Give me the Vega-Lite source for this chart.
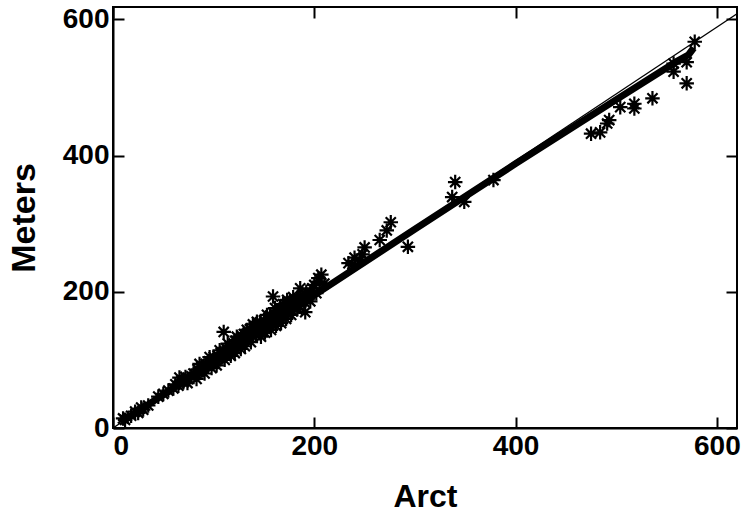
{
  "$schema": "https://vega.github.io/schema/vega-lite/v6.json",
  "width": 624,
  "height": 421,
  "autosize": "none",
  "padding": {"left": 113, "top": 7, "right": 8, "bottom": 88},
  "background": "white",
  "config": {
    "view": {"stroke": "black", "strokeWidth": 2},
    "axis": {
      "grid": false,
      "domainColor": "black",
      "domainWidth": 2,
      "tickColor": "black",
      "tickWidth": 2,
      "tickSize": -11,
      "labelFont": "Liberation Sans",
      "labelFontWeight": "bold",
      "labelFontSize": 28,
      "labelColor": "black",
      "titleFont": "Liberation Sans",
      "titleFontWeight": "bold",
      "titleFontSize": 32,
      "titleColor": "black"
    }
  },
  "datasets": {
    "pts": [
      {"Arct": 10, "Meters": 14}, {"Arct": 12, "Meters": 12}, {"Arct": 18, "Meters": 18}, {"Arct": 22, "Meters": 24},
      {"Arct": 25, "Meters": 22}, {"Arct": 28, "Meters": 30}, {"Arct": 30, "Meters": 27}, {"Arct": 35, "Meters": 33},
      {"Arct": 45, "Meters": 46}, {"Arct": 50, "Meters": 50}, {"Arct": 55, "Meters": 55}, {"Arct": 60, "Meters": 58},
      {"Arct": 62, "Meters": 64}, {"Arct": 65, "Meters": 62}, {"Arct": 66, "Meters": 74}, {"Arct": 68, "Meters": 70}, {"Arct": 70, "Meters": 67},
      {"Arct": 72, "Meters": 75}, {"Arct": 74, "Meters": 66}, {"Arct": 75, "Meters": 72}, {"Arct": 78, "Meters": 76}, {"Arct": 80, "Meters": 80},
      {"Arct": 82, "Meters": 78}, {"Arct": 83, "Meters": 72}, {"Arct": 84, "Meters": 86}, {"Arct": 85, "Meters": 82}, {"Arct": 86, "Meters": 94}, {"Arct": 88, "Meters": 90},
      {"Arct": 90, "Meters": 88}, {"Arct": 91, "Meters": 80}, {"Arct": 92, "Meters": 94}, {"Arct": 94, "Meters": 92}, {"Arct": 95, "Meters": 98},
      {"Arct": 96, "Meters": 104}, {"Arct": 97, "Meters": 95}, {"Arct": 98, "Meters": 88}, {"Arct": 100, "Meters": 100}, {"Arct": 100, "Meters": 104}, {"Arct": 102, "Meters": 98},
      {"Arct": 103, "Meters": 92}, {"Arct": 104, "Meters": 106}, {"Arct": 105, "Meters": 102}, {"Arct": 106, "Meters": 114}, {"Arct": 107, "Meters": 110}, {"Arct": 108, "Meters": 104},
      {"Arct": 110, "Meters": 112}, {"Arct": 110, "Meters": 141}, {"Arct": 111, "Meters": 100}, {"Arct": 112, "Meters": 108}, {"Arct": 113, "Meters": 116},
      {"Arct": 114, "Meters": 124}, {"Arct": 115, "Meters": 112}, {"Arct": 116, "Meters": 120}, {"Arct": 117, "Meters": 106}, {"Arct": 118, "Meters": 115}, {"Arct": 120, "Meters": 124},
      {"Arct": 120, "Meters": 118}, {"Arct": 121, "Meters": 110}, {"Arct": 122, "Meters": 128}, {"Arct": 123, "Meters": 134}, {"Arct": 124, "Meters": 122}, {"Arct": 125, "Meters": 130},
      {"Arct": 126, "Meters": 125}, {"Arct": 127, "Meters": 116}, {"Arct": 128, "Meters": 135}, {"Arct": 130, "Meters": 128}, {"Arct": 130, "Meters": 138},
      {"Arct": 131, "Meters": 120}, {"Arct": 132, "Meters": 132}, {"Arct": 133, "Meters": 144}, {"Arct": 134, "Meters": 140}, {"Arct": 135, "Meters": 135}, {"Arct": 136, "Meters": 145},
      {"Arct": 137, "Meters": 126}, {"Arct": 138, "Meters": 138}, {"Arct": 139, "Meters": 152}, {"Arct": 140, "Meters": 148}, {"Arct": 140, "Meters": 142}, {"Arct": 142, "Meters": 136},
      {"Arct": 143, "Meters": 156}, {"Arct": 144, "Meters": 150}, {"Arct": 145, "Meters": 144}, {"Arct": 146, "Meters": 155}, {"Arct": 147, "Meters": 134}, {"Arct": 148, "Meters": 148},
      {"Arct": 150, "Meters": 158}, {"Arct": 150, "Meters": 150}, {"Arct": 151, "Meters": 140}, {"Arct": 152, "Meters": 145}, {"Arct": 153, "Meters": 166}, {"Arct": 154, "Meters": 160},
      {"Arct": 155, "Meters": 152}, {"Arct": 156, "Meters": 165}, {"Arct": 157, "Meters": 144}, {"Arct": 158, "Meters": 155}, {"Arct": 159, "Meters": 193},
      {"Arct": 160, "Meters": 168}, {"Arct": 160, "Meters": 160}, {"Arct": 161, "Meters": 176}, {"Arct": 162, "Meters": 150}, {"Arct": 164, "Meters": 170},
      {"Arct": 165, "Meters": 162}, {"Arct": 166, "Meters": 175}, {"Arct": 167, "Meters": 154}, {"Arct": 168, "Meters": 165}, {"Arct": 169, "Meters": 182}, {"Arct": 170, "Meters": 178},
      {"Arct": 170, "Meters": 170}, {"Arct": 172, "Meters": 160}, {"Arct": 173, "Meters": 188}, {"Arct": 174, "Meters": 182}, {"Arct": 175, "Meters": 175},
      {"Arct": 176, "Meters": 185}, {"Arct": 177, "Meters": 166}, {"Arct": 178, "Meters": 172}, {"Arct": 179, "Meters": 192}, {"Arct": 180, "Meters": 188}, {"Arct": 182, "Meters": 180},
      {"Arct": 183, "Meters": 174}, {"Arct": 184, "Meters": 190}, {"Arct": 185, "Meters": 178}, {"Arct": 186, "Meters": 205}, {"Arct": 188, "Meters": 195},
      {"Arct": 190, "Meters": 185}, {"Arct": 191, "Meters": 170}, {"Arct": 192, "Meters": 200}, {"Arct": 195, "Meters": 195}, {"Arct": 196, "Meters": 186},
      {"Arct": 198, "Meters": 205}, {"Arct": 200, "Meters": 210}, {"Arct": 202, "Meters": 198}, {"Arct": 204, "Meters": 220}, {"Arct": 205, "Meters": 215},
      {"Arct": 207, "Meters": 225}, {"Arct": 210, "Meters": 212},
      {"Arct": 234, "Meters": 242}, {"Arct": 238, "Meters": 240}, {"Arct": 240, "Meters": 250}, {"Arct": 245, "Meters": 246},
      {"Arct": 248, "Meters": 255}, {"Arct": 250, "Meters": 265}, {"Arct": 265, "Meters": 276}, {"Arct": 272, "Meters": 290},
      {"Arct": 276, "Meters": 302}, {"Arct": 293, "Meters": 266}, {"Arct": 337, "Meters": 339}, {"Arct": 340, "Meters": 361},
      {"Arct": 349, "Meters": 332}, {"Arct": 378, "Meters": 364},
      {"Arct": 475, "Meters": 432}, {"Arct": 484, "Meters": 434}, {"Arct": 491, "Meters": 447}, {"Arct": 493, "Meters": 452},
      {"Arct": 504, "Meters": 471}, {"Arct": 518, "Meters": 476}, {"Arct": 518, "Meters": 469}, {"Arct": 536, "Meters": 484},
      {"Arct": 557, "Meters": 535}, {"Arct": 557, "Meters": 523}, {"Arct": 570, "Meters": 537}, {"Arct": 570, "Meters": 506},
      {"Arct": 578, "Meters": 567}
    ],
    "fit": [
      {"Arct": 8, "Meters": 8}, {"Arct": 100, "Meters": 98}, {"Arct": 200, "Meters": 195}, {"Arct": 300, "Meters": 292},
      {"Arct": 400, "Meters": 388}, {"Arct": 500, "Meters": 482}, {"Arct": 560, "Meters": 538}, {"Arct": 572, "Meters": 548},
      {"Arct": 577, "Meters": 558}
    ],
    "diag": [
      {"Arct": 0, "Meters": 0}, {"Arct": 620, "Meters": 608}
    ]
  },
  "layer": [
    {
      "data": {"name": "diag"},
      "mark": {"type": "line", "color": "black", "strokeWidth": 1.3, "clip": true},
      "encoding": {
        "x": {"field": "Arct", "type": "quantitative", "scale": {"domain": [0, 620], "nice": false, "zero": false},
              "axis": {"orient": "top", "labels": false, "title": null, "values": [0, 200, 400, 600], "domain": false}},
        "y": {"field": "Meters", "type": "quantitative", "scale": {"domain": [0, 618], "nice": false, "zero": false},
              "axis": {"orient": "right", "labels": false, "title": null, "values": [0, 200, 400, 600], "domain": false}}
      }
    },
    {
      "data": {"name": "fit"},
      "mark": {"type": "line", "color": "black", "strokeWidth": 7, "clip": true},
      "encoding": {
        "x": {"field": "Arct", "type": "quantitative", "axis": null},
        "y": {"field": "Meters", "type": "quantitative", "axis": null}
      }
    },
    {
      "data": {"name": "pts"},
      "mark": {"type": "point", "shape": "M-1,0L1,0M0,-1L0,1M-0.7,-0.7L0.7,0.7M-0.7,0.7L0.7,-0.7", "filled": false, "stroke": "black", "strokeWidth": 2.2, "size": 210, "opacity": 1, "clip": true},
      "encoding": {
        "x": {"field": "Arct", "type": "quantitative",
              "axis": {"orient": "bottom", "title": "Arct", "values": [0, 200, 400, 600], "labelPadding": 15, "titlePadding": 21}},
        "y": {"field": "Meters", "type": "quantitative",
              "axis": {"orient": "left", "title": "Meters", "values": [0, 200, 400, 600], "labelPadding": 15, "titlePadding": 21, "titleFontSize": 34}}
      }
    }
  ],
  "resolve": {"axis": {"x": "independent", "y": "independent"}}
}
